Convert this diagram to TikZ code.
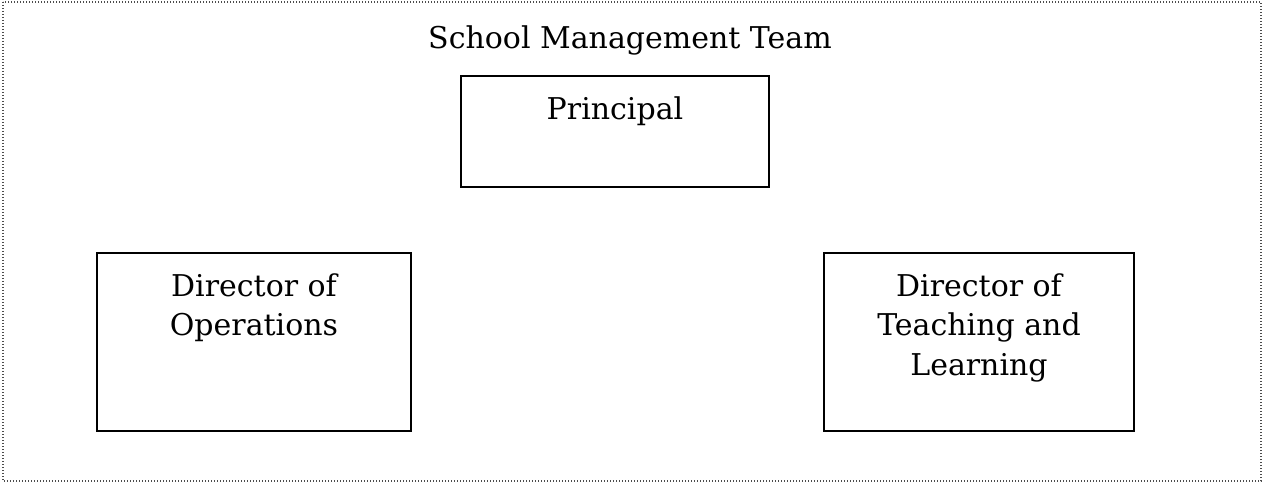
\documentclass[tikz,border=0pt]{standalone}
\usepackage{fontspec}
\setmainfont{DejaVu Serif}
\begin{document}
\begin{tikzpicture}[x=1pt,y=-1pt,
  frame/.style={draw=black!70,line width=1.3pt,dash pattern=on 1pt off 2pt},
  rolebox/.style={draw=black,line width=1.5pt,inner sep=0pt,outer sep=0pt},
  txt/.style={font=\fontsize{30}{39}\selectfont,align=center,inner sep=0pt}]
\useasboundingbox (0,0) rectangle (1264,486);
\draw[frame] (3,2) rectangle (1261,481);
\node[txt,anchor=base] (title) at (630,49) {School Management Team};
\node[rolebox,minimum width=308pt,minimum height=111pt] (prin) at (615,131.5) {};
\node[txt,anchor=base] (prinT) at (prin.north |- 0,120) {Principal};
\node[rolebox,minimum width=314pt,minimum height=178pt] (ops) at (254,342) {};
\node[txt,anchor=base] (opsT) at (ops.north |- 0,297) {Director of};
\node[txt,anchor=base] (opsT2) at (ops.north |- 0,336) {Operations};
\node[rolebox,minimum width=310pt,minimum height=178pt] (tl) at (979,342) {};
\node[txt,anchor=base] (tlT) at (tl.north |- 0,297) {Director of};
\node[txt,anchor=base] (tlT2) at (tl.north |- 0,336) {Teaching and};
\node[txt,anchor=base] (tlT3) at (tl.north |- 0,375) {Learning};
\end{tikzpicture}
\end{document}
